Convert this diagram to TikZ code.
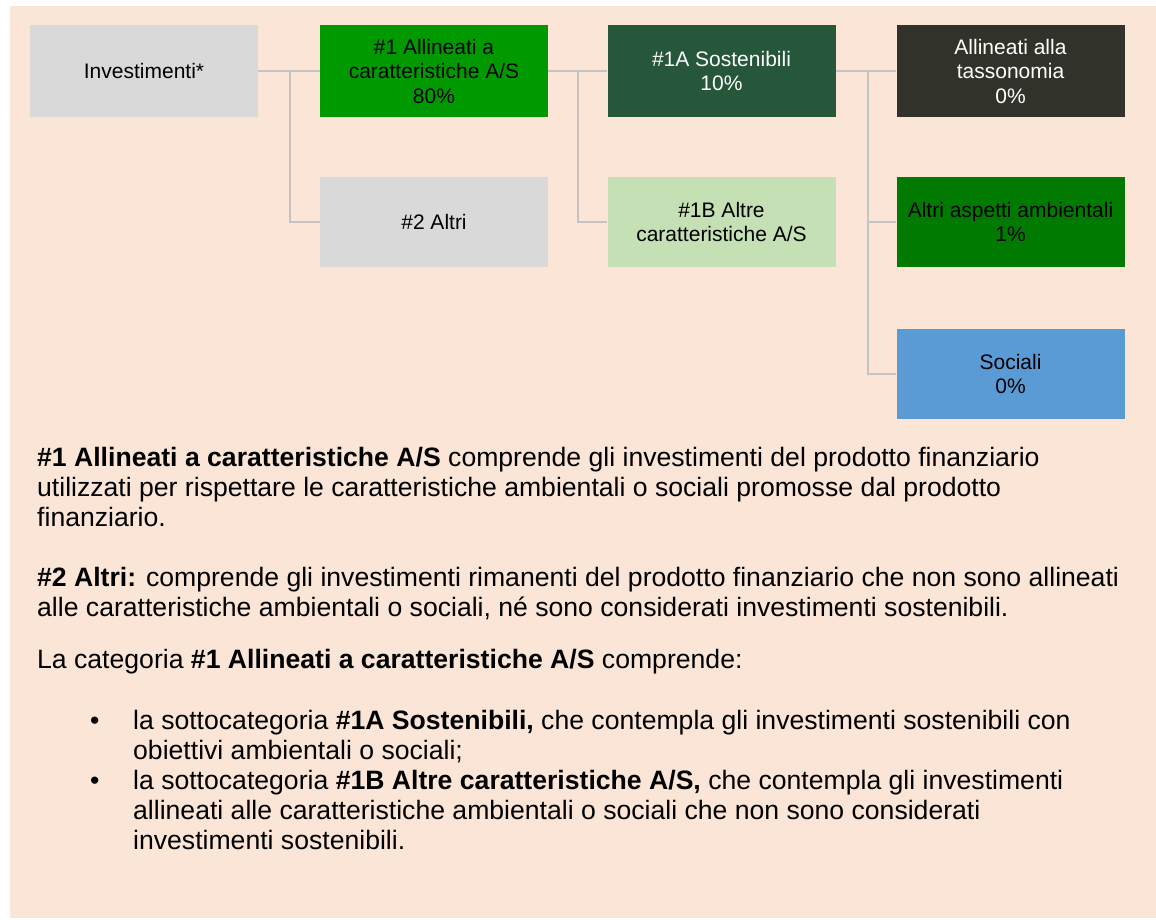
\documentclass[tikz,border=0pt]{standalone}
\usepackage{fontspec}
\setmainfont{Liberation Sans}
\usetikzlibrary{positioning}
\definecolor{peach}{RGB}{251,229,214}
\definecolor{boxgray}{RGB}{217,217,217}
\definecolor{catgreen}{RGB}{0,153,0}
\definecolor{susgreen}{RGB}{38,87,58}
\definecolor{taxdark}{RGB}{49,51,43}
\definecolor{envgreen}{RGB}{0,122,0}
\definecolor{socblue}{RGB}{91,155,213}
\definecolor{palegreen}{RGB}{197,224,180}
\definecolor{linegray}{RGB}{196,196,196}

\begin{document}
\begin{tikzpicture}[x=1pt,y=-1pt,
  cat/.style={minimum width=228pt,minimum height=92pt,inner sep=0pt,align=center,font=\fontsize{21}{24.5}\selectfont},
  link/.style={draw=linegray,line width=2pt},
  para/.style={anchor=base west,align=left,inner sep=0pt,font=\fontsize{26.6}{30}\selectfont}]
\fill[white] (0,0) rectangle (1156,919);
\fill[peach] (10,6) rectangle (1156,918);
% tree of categories
\node[cat,fill=boxgray] (inv) at (144,71) {Investimenti*};
\node[cat,fill=catgreen] (s1) at (434,71) {\#1 Allineati a\\caratteristiche A/S\\80\%};
\node[cat,fill=susgreen,text=white] (s1a) at (721.5,71) {\#1A Sostenibili\\10\%};
\node[cat,fill=taxdark,text=white] (tax) at (1010.5,71) {Allineati alla\\tassonomia\\0\%};
\node[cat,fill=boxgray,minimum height=90pt] (s2) at (434,222) {\#2 Altri};
\node[cat,fill=palegreen,minimum height=90pt] (s1b) at (721.5,222) {\#1B Altre\\caratteristiche A/S};
\node[cat,fill=envgreen,minimum height=90pt] (amb) at (1010.5,222) {Altri aspetti ambientali\\1\%};
\node[cat,fill=socblue,minimum height=90pt] (soc) at (1010.5,374) {Sociali\\0\%};
\coordinate (j1) at (290,71);
\coordinate (j2) at (578,71);
\coordinate (j3) at (868,71);
\draw[link] (inv) -- (s1);
\draw[link] (j1) |- (s2);
\draw[link] (s1) -- (s1a);
\draw[link] (j2) |- (s1b);
\draw[link] (s1a) -- (tax);
\draw[link] (j3) |- (amb);
\draw[link] (j3) |- (soc);
% notes (base = last line)
\node[para] (p1) at (37,526) {\textbf{\#1 Allineati a caratteristiche A/S} comprende gli investimenti del prodotto finanziario\\utilizzati per rispettare le caratteristiche ambientali o sociali promosse dal prodotto\\finanziario.};
\node[para] (p2) at (37,616) {\textbf{\#2 Altri:} comprende gli investimenti rimanenti del prodotto finanziario che non sono allineati\\alle caratteristiche ambientali o sociali, né sono considerati investimenti sostenibili.};
\node[para] (p3) at (37,668) {La categoria \textbf{\#1 Allineati a caratteristiche A/S} comprende:};
\node[para] (b1) at (90,729) {\textbullet};
\node[para] (t1) at (133,759) {la sottocategoria \textbf{\#1A Sostenibili,} che contempla gli investimenti sostenibili con\\obiettivi ambientali o sociali;};
\node[para] (b2) at (90,789) {\textbullet};
\node[para] (t2) at (133,849) {la sottocategoria \textbf{\#1B Altre caratteristiche A/S,} che contempla gli investimenti\\allineati alle caratteristiche ambientali o sociali che non sono considerati\\investimenti sostenibili.};
\end{tikzpicture}
\end{document}
